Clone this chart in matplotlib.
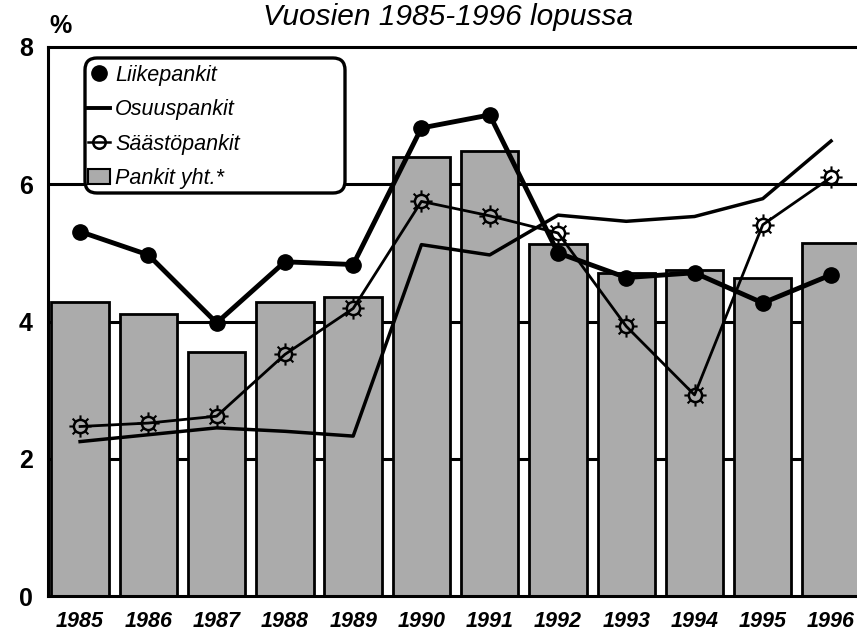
import matplotlib
matplotlib.use("Agg")
import matplotlib.pyplot as plt
import numpy as np
from matplotlib.path import Path
from matplotlib.lines import Line2D
from matplotlib.patches import Patch, FancyBboxPatch

years = ["1985", "1986", "1987", "1988", "1989", "1990", "1991", "1992", "1993", "1994", "1995", "1996"]
pankit_yht = [4.28, 4.11, 3.55, 4.29, 4.35, 6.39, 6.48, 5.13, 4.71, 4.75, 4.64, 5.14]
liikepankit = [5.31, 4.97, 3.98, 4.87, 4.83, 6.82, 7.01, 5.00, 4.64, 4.71, 4.27, 4.68]
osuuspankit = [2.25, 2.35, 2.45, 2.40, 2.33, 5.12, 4.97, 5.55, 5.46, 5.53, 5.79, 6.63]
saastopankit = [2.47, 2.52, 2.62, 3.52, 4.19, 5.75, 5.54, 5.29, 3.93, 2.93, 5.41, 6.10]
yticks = [0, 2, 4, 6, 8]

plt.rcParams['font.family'] = ['Liberation Sans', 'DejaVu Sans']

fig = plt.figure(figsize=(8.57, 6.35), dpi=100)
ax = fig.add_axes([48/857, 39/635, 1 - 48/857, 549/635])

x = np.arange(len(years))

# horizontal grid lines behind bars
for yv in yticks[1:-1]:
    ax.axhline(yv, color='black', lw=2.2, zorder=1)

bar_color = '#ababab'
ax.bar(x, pankit_yht, width=0.84, color=bar_color, edgecolor='black', linewidth=2.0, zorder=2)

# sun-ray marker path
verts, codes = [], []
for a in np.deg2rad(np.arange(0, 360, 45)):
    verts += [(0.6*np.cos(a), 0.6*np.sin(a)), (np.cos(a), np.sin(a))]
    codes += [Path.MOVETO, Path.LINETO]
rays = Path(verts, codes)

ax.plot(x, osuuspankit, color='black', lw=2.5, zorder=3)
ax.plot(x, saastopankit, color='black', lw=2.0, zorder=4)
ax.plot(x, saastopankit, ls='none', marker=rays, ms=16, mec='black', mew=1.5, zorder=5)
ax.plot(x, saastopankit, ls='none', marker='o', ms=9.5, mfc='none', mec='black', mew=1.8, zorder=5)
ax.plot(x, liikepankit, color='black', lw=3.5, marker='o', ms=11, zorder=6)

ax.set_xlim(-0.47, 11.38)
ax.set_ylim(0, 8)
ax.set_yticks(yticks)
ax.set_yticklabels([str(v) for v in yticks], fontsize=18, fontweight='bold')
ax.set_xticks(x)
ax.set_xticklabels(years, fontsize=15.5, fontweight='bold', fontstyle='italic')
ax.tick_params(axis='both', length=0)
ax.tick_params(axis='x', pad=11)
ax.tick_params(axis='y', pad=11)

for s in ['left', 'top', 'bottom']:
    ax.spines[s].set_linewidth(2.2)
    ax.spines[s].set_color('black')
ax.spines['right'].set_visible(False)

# legend frame (rounded box, wider than its text)
frame = FancyBboxPatch((0.85, 4.42), 2.60, 1.35,
                       boxstyle="round,pad=0,rounding_size=0.12",
                       transform=fig.dpi_scale_trans, facecolor='white',
                       edgecolor='black', linewidth=2.4, zorder=9, clip_on=False)
ax.add_artist(frame)

handles = [
    Line2D([], [], color='black', marker='o', ms=11, lw=0),
    Line2D([], [], color='black', lw=2.8),
    Line2D([], [], color='black', lw=1.8, marker='o', ms=9, mfc='none', mew=1.8),
    Patch(facecolor=bar_color, edgecolor='black', linewidth=1.5),
]
labels = ["Liikepankit", "Osuuspankit", "Säästöpankit", "Pankit yht.*"]
leg = ax.legend(handles, labels, loc='upper left', bbox_to_anchor=(88/857, 1 - 65/635),
                bbox_transform=fig.transFigure, borderaxespad=0, frameon=False,
                prop={'size': 15.5, 'style': 'italic'}, handlelength=1.0, handletextpad=0.25,
                labelspacing=0.62, borderpad=0)
leg.set_zorder(10)

fig.text(448/857, 1 - 25/635, "Vuosien 1985-1996 lopussa", fontsize=21.5, fontstyle='italic',
         ha='center', va='baseline')
fig.text(61/857, 1 - 33/635, "%", fontsize=18, fontweight='bold', ha='center', va='baseline')

fig.savefig("out.png", dpi=100)
